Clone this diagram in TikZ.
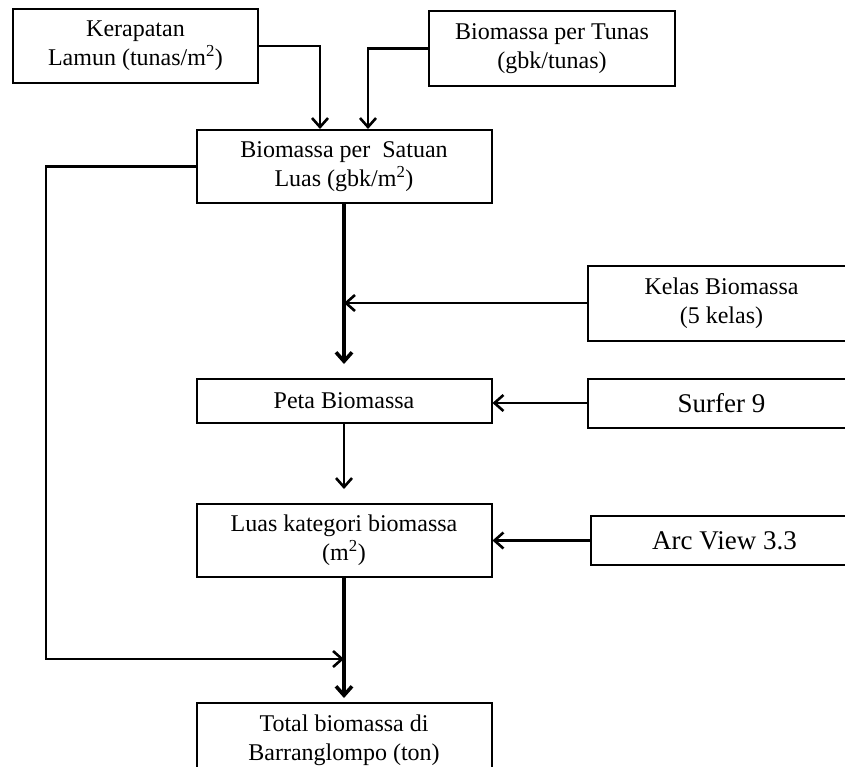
\documentclass[tikz,border=0pt]{standalone}
\usepackage{fontspec}
\setmainfont{Liberation Serif}
\usetikzlibrary{arrows.meta, positioning}

\begin{document}
\begin{tikzpicture}[
    x=1pt, y=1pt,
    box/.style={rectangle, draw, line width=2pt, align=center, inner sep=0pt,
                minimum width=295pt, minimum height=73pt,
                font=\fontsize{24}{29}\selectfont},
    toolbox/.style={box, minimum width=268pt, minimum height=49pt,
                font=\fontsize{27}{32}\selectfont},
    arrow/.style={-{Straight Barb[length=9pt, width=16pt]}, line width=2.6pt},
    mainarrow/.style={arrow, line width=3.6pt}
]
\useasboundingbox (0,0) rectangle (845,-766);
\clip (0,0) rectangle (845,-766);

% inputs
\node[box, minimum width=245pt, minimum height=74pt] (kerapatan) at (135.5,-46) {Kerapatan\\Lamun (tunas/m\textsuperscript{2})};
\node[box, minimum width=246pt, minimum height=75pt] (tunas) at (552,-48.5) {Biomassa per Tunas\\(gbk/tunas)};

% main column
\node[box] (satuan) at (344,-166.5) {Biomassa per\ \ Satuan\\Luas (gbk/m\textsuperscript{2})};
\node[box, minimum height=44pt] (peta) [below=174pt of satuan] {Peta Biomassa};
\node[box] (luas) [below=79pt of peta] {Luas kategori biomassa\\(m\textsuperscript{2})};
\node[box, minimum height=74pt] (total) [below=124pt of luas] {Total biomassa di\\Barranglompo (ton)};

% side boxes
\node[toolbox, yshift=-2pt] (surfer) [right=94pt of peta] {Surfer 9};
\node[box, minimum width=268pt, minimum height=75pt] (kelas) [above=36pt of surfer] {Kelas Biomassa\\(5 kelas)};
\node[toolbox] (arcview) [right=97pt of luas] {Arc View 3.3};

\coordinate (loopcorner) at (46,-659);
\coordinate (join) at (344,-659);

% connectors
\draw[arrow] (kerapatan.east) -| ([xshift=-24pt]satuan.north);
\draw[arrow] (tunas.west) -| ([xshift=24pt]satuan.north);
\draw[mainarrow, shorten >=14pt] (satuan) -- (peta);
\draw[arrow, shorten >=14pt] (peta) -- (luas);
\draw[mainarrow, shorten >=4pt] (luas) -- (total);
\draw[arrow] (kelas.west) -- (kelas.west -| satuan.south);
\draw[arrow] (surfer.west) -- (surfer.west -| peta.east);
\draw[arrow] (arcview) -- (luas);
\draw[arrow] (satuan.west) -| (loopcorner) -- (join);
\end{tikzpicture}
\end{document}
